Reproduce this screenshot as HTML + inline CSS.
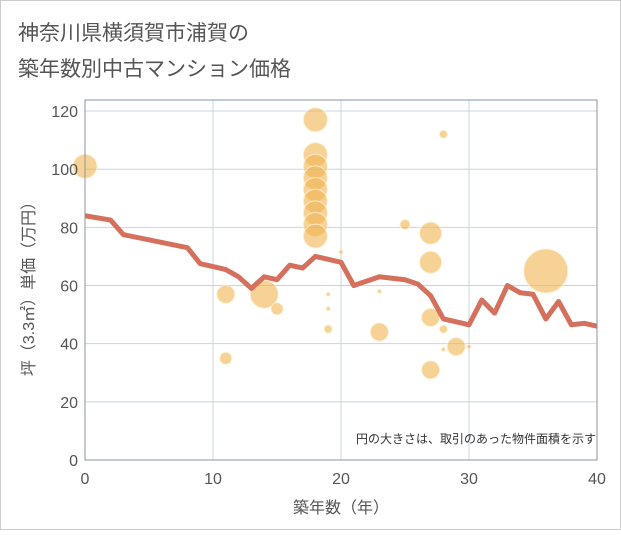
<!DOCTYPE html>
<html><head><meta charset="utf-8"><style>
body{margin:0;background:#fff;font-family:"Liberation Sans","Noto Sans CJK JP",sans-serif}
</style></head><body>
<svg width="621" height="530" xmlns="http://www.w3.org/2000/svg" font-family="Liberation Sans, Noto Sans CJK JP, sans-serif">
<rect x="0.5" y="0.5" width="620" height="529" fill="#fff" stroke="#ccc"/>
<text x="18" y="40" font-size="21" fill="#555">神奈川県横須賀市浦賀の</text>
<text x="18" y="76" font-size="21" fill="#555">築年数別中古マンション価格</text>
<g id="grid"></g><g id="bubbles"></g><g id="line"></g><g id="axes"></g>
<text x="596" y="443" font-size="12" fill="#333" text-anchor="end">円の大きさは、取引のあった物件面積を示す</text>
<text x="341" y="513" font-size="16" fill="#555" text-anchor="middle">築年数（年）</text>
<text transform="translate(34,285) rotate(-90)" font-size="16" fill="#555" text-anchor="middle">坪（3.3㎡）単価（万円）</text>
</svg>
<script>
const xTicks=[0,10,20,30,40];
const yTicks=[0,20,40,60,80,100,120];
const lineX=[0,2,3,8,9,10,11,12,13,14,15,16,17,18,19,20,21,22,23,24,25,26,27,28,29,30,31,32,33,34,35,36,37,38,39,40];
const lineY=[84,82.5,77.5,73,67.5,66.5,65.5,63,59,63,62,67,66,70,69,68,60,61.5,63,62.5,62,60.5,56.5,48.5,47.5,46.5,55,50.5,60,57.5,57,48.5,54.5,46.5,47,46];
const bubX=[0,11,11,14,15,18,18,18,18,18,18,18,18,18,20,19,19,19,23,23,25,27,27,27,27,28,28,28,29,30,36];
const bubY=[101,57,35,57,52,117,105,101,97,93,89,85,81,77,71.5,57,52,45,58,44,81,78,68,49,31,112,45,38,39,39,65];
const bubR=[12,9,6,14,6,12,12,12,12,12,12,12,12,12,2,2,2,4,2,9,5,11,11,9,9,4,4,2,9,2,22];
const X=v=>85+v*12.8, Y=v=>460-v*2.908;
const NS="http://www.w3.org/2000/svg";
function mk(t,a,p){const e=document.createElementNS(NS,t);for(const k in a)e.setAttribute(k,a[k]);p.appendChild(e);return e;}
const g=document.getElementById('grid'),ax=document.getElementById('axes');
xTicks.forEach(v=>{const l=mk('line',{x1:X(v),x2:X(v),y1:100,y2:460,stroke:'#c8d4e2'},g);

const t=mk('text',{x:X(v),y:484,'font-size':16,fill:'#555','text-anchor':'middle'},ax);t.textContent=v;
});
yTicks.forEach(v=>{const l=mk('line',{x1:85,x2:597,y1:Y(v),y2:Y(v),stroke:'#c8d4e2'},g);

const t=mk('text',{x:78,y:Y(v)+6,'font-size':16,fill:'#555','text-anchor':'end'},ax);t.textContent=v;
});
const fr=mk('rect',{x:85,y:100,width:512,height:360,fill:'none',stroke:'#8a96a4'},ax);

const b=document.getElementById('bubbles');
bubX.forEach((v,i)=>{const c=mk('circle',{cx:X(v),cy:Y(bubY[i]),r:bubR[i],fill:'rgba(240,180,80,0.6)',stroke:'rgba(255,240,210,0.8)','stroke-width':1},b);
});
const p=mk('polyline',{points:lineX.map((v,i)=>X(v)+','+Y(lineY[i])).join(' '),fill:'none',stroke:'#d4705c','stroke-width':5,'stroke-linejoin':'round'},document.getElementById('line'));

</script>
</body></html>
